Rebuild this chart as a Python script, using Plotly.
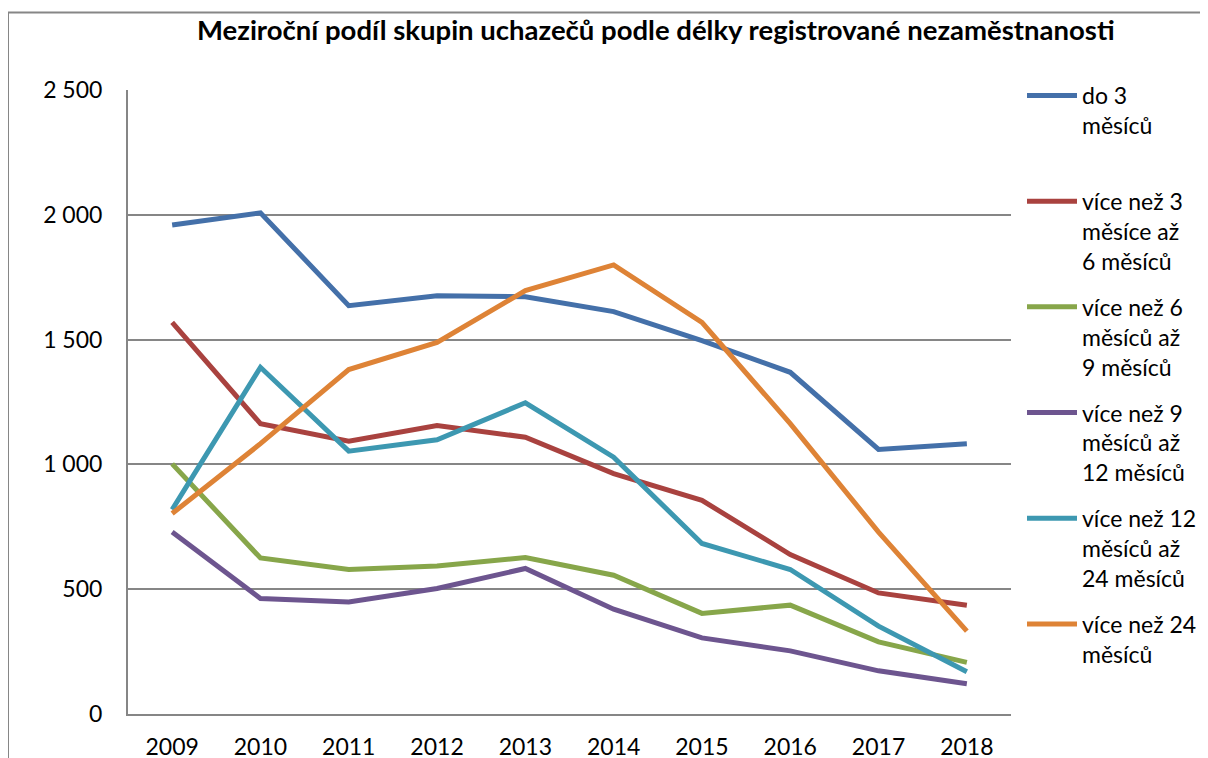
import plotly.graph_objects as go

years = ["2009", "2010", "2011", "2012", "2013", "2014", "2015", "2016", "2017", "2018"]

do_3 = [1959, 2008, 1636, 1676, 1672, 1612, 1496, 1369, 1060, 1083]
od_3_do_6 = [1569, 1163, 1093, 1156, 1109, 963, 856, 639, 485, 436]
od_6_do_9 = [1002, 625, 579, 593, 627, 556, 403, 436, 289, 207]
od_9_do_12 = [729, 463, 449, 503, 583, 420, 305, 253, 173, 121]
od_12_do_24 = [819, 1389, 1053, 1099, 1247, 1029, 683, 579, 352, 169]
nad_24 = [803, 1083, 1380, 1489, 1696, 1799, 1569, 1163, 729, 332]

series_names = [
    "do 3<br>měsíců<br> ",
    "více než 3<br>měsíce až<br>6 měsíců",
    "více než 6<br>měsíců až<br>9 měsíců",
    "více než 9<br>měsíců až<br>12 měsíců",
    "více než 12<br>měsíců až<br>24 měsíců",
    "více než 24<br>měsíců",
]
series_values = [do_3, od_3_do_6, od_6_do_9, od_9_do_12, od_12_do_24, nad_24]
colors = ["#4470A9", "#A9423F", "#87A64A", "#6D558F", "#3D98B1", "#DE8336"]

ytick_vals = [0, 500, 1000, 1500, 2000, 2500]
ytick_text = ["0", "500", "1 000", "1 500", "2 000", "2 500"]

title_text = "Meziroční podíl skupin uchazečů podle délky registrované nezaměstnanosti"

FONT = "Lato"
W, H = 1208, 758
OFF = 8  # page body margin offset
# desired plot area in page pixels: x 128..1011, y 89.5..714
L = 128 - OFF
T = 89.5 - OFF
R = W - (1011 - OFF)
B = H - (714 - OFF)
PW = W - L - R
PH = H - T - B

fig = go.Figure()
for i, (name, vals, col) in enumerate(zip(series_names, series_values, colors)):
    fig.add_trace(go.Scatter(
        x=years, y=vals, name=name, mode="lines",
        line=dict(color=col, width=5),
        legendgroup=f"g{i}",
    ))

def px_x(p):
    return (p - OFF - L) / PW

def px_y(p):
    return (H - B - (p - OFF)) / PH

fig.update_layout(
    width=W, height=H,
    margin=dict(l=L, r=R, t=T, b=B, pad=0, autoexpand=False),
    paper_bgcolor="white", plot_bgcolor="white",
    font=dict(family=FONT, size=23, color="black"),
    showlegend=True,
    legend=dict(
        x=px_x(1022), y=px_y(73.5), xanchor="left", yanchor="top",
        valign="top", traceorder="grouped", tracegroupgap=13,
        itemwidth=50, maxheight=2000,
        font=dict(family=FONT, size=23, color="black"),
        bgcolor="rgba(0,0,0,0)",
    ),
    xaxis=dict(
        type="category", range=[-0.5, 9.5], showgrid=False,
        showline=True, linecolor="#868686", linewidth=2,
        ticks="", ticklabelstandoff=11,
        tickfont=dict(family=FONT, size=23, color="black"),
        fixedrange=True,
    ),
    yaxis=dict(
        range=[0, 2500], tickvals=ytick_vals, ticktext=ytick_text,
        showgrid=True, gridcolor="#868686", gridwidth=2,
        showline=True, linecolor="#868686", linewidth=2,
        zeroline=False, ticks="", ticklabelstandoff=19,
        tickfont=dict(family=FONT, size=23, color="black"),
        fixedrange=True,
    ),
    annotations=[dict(
        text=f"<b>{title_text}</b>", xref="paper", yref="paper",
        x=px_x(656), y=px_y(29), xanchor="center", yanchor="middle",
        showarrow=False, font=dict(family=FONT, size=27.5, color="black"),
    )],
    shapes=[
        dict(type="line", xref="paper", yref="paper",
             x0=px_x(8), x1=px_x(1220), y0=px_y(12), y1=px_y(12),
             line=dict(color="#868686", width=2)),
        dict(type="line", xref="paper", yref="paper",
             x0=px_x(8), x1=px_x(8), y0=px_y(12), y1=px_y(770),
             line=dict(color="#868686", width=2)),
    ],
)

fig.write_html("out.html", config={"displayModeBar": False})
